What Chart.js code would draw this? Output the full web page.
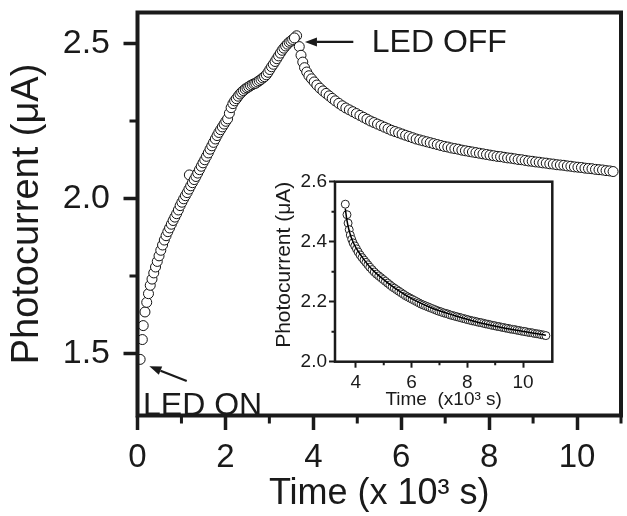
<!DOCTYPE html>
<html><head><meta charset="utf-8">
<script src="https://cdn.jsdelivr.net/npm/chart.js@4.4.1/dist/chart.umd.min.js"></script>
<style>
html,body{margin:0;padding:0;background:#fff;}
#wrap{position:relative;width:627px;height:516px;overflow:hidden;}
#main{position:absolute;left:0;top:0;}
#inset{position:absolute;left:270px;top:170px;}
</style></head><body>
<div id="wrap"><canvas id="main" width="627" height="516"></canvas><canvas id="inset" width="290" height="245"></canvas></div>
<script>
// ---- data (time in 10^3 s, photocurrent in µA) ----
const riseTime = [0.06,0.11,0.13,0.17,0.21,0.25,0.29,0.33,0.37,0.41,
  0.45,0.49,0.53,0.57,0.61,0.65,0.69,0.73,0.77,0.81,
  0.85,0.89,0.93,0.97,1.01,1.05,1.09,1.13,1.17,
  1.18,1.21,1.25,1.29,1.33,1.37,1.41,1.45,1.49,1.53,
  1.57,1.61,1.65,1.69,1.73,1.77,1.81,1.85,1.89,1.93,
  1.97,2.01,2.05,2.09,2.13,2.17,2.21,2.25,2.29,2.33,
  2.37,2.41,2.45,2.49,2.53,2.57,2.61,2.65,2.69,2.73,
  2.77,2.81,2.85,2.89,2.93,2.97,3.01,3.05,3.09,3.13,
  3.17,3.21,3.25,3.29,3.33,3.37,3.41,3.45,3.49,3.53,
  3.57];
const riseCurrent = [1.481,1.545,1.590,1.634,1.665,1.693,1.720,1.740,1.760,1.779,
  1.797,1.815,1.833,1.850,1.866,1.880,1.893,1.905,1.917,1.929,
  1.940,1.951,1.963,1.977,1.988,1.999,2.009,2.019,2.030,
  2.076,2.041,2.051,2.061,2.071,2.082,2.093,2.104,2.115,2.125,
  2.136,2.147,2.159,2.170,2.181,2.192,2.203,2.213,2.222,2.231,
  2.240,2.249,2.257,2.275,2.293,2.306,2.315,2.322,2.330,2.337,
  2.343,2.348,2.353,2.357,2.360,2.364,2.367,2.370,2.372,2.376,
  2.380,2.384,2.389,2.393,2.399,2.407,2.416,2.425,2.433,2.442,
  2.451,2.460,2.469,2.478,2.485,2.492,2.498,2.504,2.508,2.513,
  2.518];
const decayTime = [3.62,3.68,3.72,3.76,3.80,3.85,3.90,3.96,4.02,4.08,4.15,4.22,4.29,4.36,4.43,4.50,4.58,4.66,4.74,4.82,4.90,4.98,5.06,5.14,5.22,5.30,5.38,5.46,5.54,5.62,5.70,5.78,5.86,5.94,6.02,6.10,6.18,6.26,6.34,6.42,6.50,6.58,6.66,6.74,6.82,6.90,6.98,7.06,7.14,7.22,7.30,7.38,7.46,7.54,7.62,7.70,7.78,7.86,7.94,8.02,8.10,8.18,8.26,8.34,8.42,8.50,8.58,8.66,8.74,8.82,8.90,8.98,9.06,9.14,9.22,9.30,9.38,9.46,9.54,9.62,9.70,9.78,9.86,9.94,10.02,10.10,10.18,10.26,10.34,10.42,10.50,10.58,10.66,10.74,10.82];
const decayCurrent = [2.525,2.490,2.462,2.440,2.422,2.408,2.396,2.386,2.376,2.366,2.356,2.347,2.339,2.331,2.323,2.315,2.307,2.299,2.292,2.286,2.280,2.274,2.268,2.262,2.256,2.250,2.245,2.240,2.235,2.230,2.225,2.220,2.216,2.212,2.208,2.204,2.200,2.196,2.192,2.189,2.186,2.183,2.180,2.177,2.174,2.171,2.168,2.166,2.163,2.161,2.159,2.156,2.154,2.152,2.150,2.148,2.146,2.144,2.142,2.140,2.138,2.136,2.135,2.133,2.131,2.130,2.128,2.126,2.125,2.123,2.121,2.120,2.118,2.117,2.115,2.114,2.112,2.111,2.109,2.108,2.107,2.105,2.104,2.102,2.101,2.100,2.098,2.097,2.096,2.094,2.093,2.092,2.090,2.089,2.087];
const fitTime = [3.62,3.68,3.75,3.85,4.0,4.2,4.5,4.9,5.4,6.0,6.7,7.5,8.4,9.4,10.4,10.82];
const fitCurrent = [2.51,2.47,2.44,2.41,2.38,2.352,2.316,2.281,2.245,2.210,2.180,2.155,2.131,2.111,2.095,2.088];

const mainXTicks = [0,2,4,6,8,10];
const mainXMinor = [1,3,5,7,9,11];
const mainYTicks = [1.5,2.0,2.5];
const mainYMinor = [1.75,2.25];
const insetXTicks = [4,6,8,10];
const insetXMinor = [5,7,9];
const insetYTicks = [2.0,2.2,2.4,2.6];
const insetYMinor = [2.1,2.3,2.5];

const FONT = '"Liberation Sans", Arial, Helvetica, sans-serif';
const INK = '#1a1a1a';
function pts(xs, ys){ return xs.map((x,i)=>({x:x, y:ys[i]})); }

function drawArrow(ctx, x1, y1, x2, y2, w, hl, hw){
  const a = Math.atan2(y2-y1, x2-x1);
  const bx = x2 - hl*Math.cos(a), by = y2 - hl*Math.sin(a);
  ctx.lineWidth = w;
  ctx.beginPath(); ctx.moveTo(x1,y1); ctx.lineTo(bx,by); ctx.stroke();
  ctx.beginPath(); ctx.moveTo(x2,y2);
  ctx.lineTo(bx + hw*Math.sin(a), by - hw*Math.cos(a));
  ctx.lineTo(bx - hw*Math.sin(a), by + hw*Math.cos(a));
  ctx.closePath(); ctx.fill();
}

const framePlugin = {
  id: 'frame',
  afterDatasetsDraw(chart, args, o){
    const ctx = chart.ctx, a = chart.chartArea;
    const xs = chart.scales.x, ys = chart.scales.y;
    ctx.save();
    ctx.strokeStyle = INK; ctx.fillStyle = INK;
    ctx.lineWidth = o.width;
    ctx.strokeRect(a.left, a.top, a.right-a.left, a.bottom-a.top);
    ctx.lineWidth = o.minorWidth;
    ctx.beginPath();
    (o.xMinor||[]).forEach(v=>{ const p = xs.getPixelForValue(v); ctx.moveTo(p, a.bottom); ctx.lineTo(p, a.bottom + o.minorLen); });
    (o.yMinor||[]).forEach(v=>{ const p = ys.getPixelForValue(v); ctx.moveTo(a.left, p); ctx.lineTo(a.left - o.minorLen, p); });
    ctx.stroke();
    (o.arrows||[]).forEach(r=>{
      drawArrow(ctx, xs.getPixelForValue(r.from[0]), ys.getPixelForValue(r.from[1]),
                xs.getPixelForValue(r.to[0]), ys.getPixelForValue(r.to[1]), 2.2, 12, 4.5);
    });
    (o.labels||[]).forEach(l=>{
      ctx.font = l.size + 'px ' + FONT;
      ctx.textAlign = 'left'; ctx.textBaseline = 'alphabetic';
      ctx.fillText(l.text, xs.getPixelForValue(l.at[0]), ys.getPixelForValue(l.at[1]));
    });
    ctx.restore();
  }
};

function majorTicks(list){ return function(scale){ scale.ticks = list.map(v=>({value:v})); }; }
function fixBox(prop, size){
  return function(s){ s[prop] = size; s.paddingTop = 0; s.paddingBottom = 0; s.paddingLeft = 0; s.paddingRight = 0; };
}

// ---------------- main chart ----------------
const pointStyle = { pointRadius: 5, pointBorderWidth: 1, pointBackgroundColor: '#fff', pointBorderColor: '#111', showLine: false };
new Chart(document.getElementById('main'), {
  type: 'scatter',
  data: { datasets: [
    Object.assign({ label: 'LED on', data: pts(riseTime, riseCurrent) }, pointStyle),
    Object.assign({ label: 'LED off', data: pts(decayTime, decayCurrent) }, pointStyle)
  ]},
  plugins: [framePlugin],
  options: {
    responsive: false, animation: false, devicePixelRatio: 1, events: [],
    layout: { padding: { top: 12.5, right: 5.5, left: 0, bottom: 0 } },
    plugins: {
      legend: { display: false }, tooltip: { enabled: false },
      frame: {
        width: 4, minorWidth: 3, minorLen: 8,
        xMinor: mainXMinor, yMinor: mainYMinor,
        arrows: [ { from: [4.91, 2.505], to: [3.81, 2.505] }, { from: [1.12, 1.411], to: [0.27, 1.459] } ],
        labels: [ { text: 'LED OFF', at: [5.33, 2.473], size: 32 }, { text: 'LED ON', at: [0.125, 1.303], size: 32 } ]
      }
    },
    scales: {
      x: {
        type: 'linear', position: 'bottom', min: 0, max: 11,
        afterBuildTicks: majorTicks(mainXTicks),
        afterFit: fixBox('height', 100.5),
        border: { display: false },
        grid: { drawOnChartArea: false, drawTicks: true, tickLength: 14.5, tickWidth: 3.5, tickColor: INK },
        ticks: { color: INK, font: { family: FONT, size: 33 }, padding: 8, maxRotation: 0, autoSkip: false, callback: v => String(v) },
        title: { display: true, text: 'Time (x 10³ s)', color: INK, font: { family: FONT, size: 36 }, padding: { top: 0, bottom: 0 } }
      },
      y: {
        type: 'linear', min: 1.3, max: 2.6,
        afterBuildTicks: majorTicks(mainYTicks),
        afterFit: fixBox('width', 137.5),
        border: { display: false },
        grid: { drawOnChartArea: false, drawTicks: true, tickLength: 14, tickWidth: 3.5, tickColor: INK },
        ticks: { color: INK, font: { family: FONT, size: 34 }, padding: 13.5, autoSkip: false, callback: v => Number(v).toFixed(1) },
        title: { display: true, text: 'Photocurrent (μA)', color: INK, font: { family: FONT, size: 38 }, padding: { top: 4.5, bottom: 0 } }
      }
    }
  }
});

// ---------------- inset ----------------
new Chart(document.getElementById('inset'), {
  type: 'scatter',
  data: { datasets: [
    { type: 'line', label: 'fit', data: pts(fitTime, fitCurrent), borderColor: '#000', borderWidth: 1.5, pointRadius: 0, fill: false, cubicInterpolationMode: 'monotone', order: 0 },
    { label: 'decay', data: pts(decayTime, decayCurrent), pointRadius: 4, pointBorderWidth: 1, pointBackgroundColor: '#fff', pointBorderColor: '#222', showLine: false, order: 1 }
  ]},
  plugins: [framePlugin],
  options: {
    responsive: false, animation: false, devicePixelRatio: 1, events: [],
    layout: { padding: { top: 11.7, right: 7.7, left: 0, bottom: 0 } },
    plugins: {
      legend: { display: false }, tooltip: { enabled: false },
      frame: { width: 2.5, minorWidth: 2, minorLen: 3.5, xMinor: insetXMinor, yMinor: insetYMinor }
    },
    scales: {
      x: {
        type: 'linear', position: 'bottom', min: 3.25, max: 11.05,
        afterBuildTicks: majorTicks(insetXTicks),
        afterFit: fixBox('height', 53.3),
        border: { display: false },
        grid: { drawOnChartArea: false, drawTicks: true, tickLength: 6, tickWidth: 2, tickColor: INK },
        ticks: { color: INK, font: { family: FONT, size: 19 }, padding: 3.4, maxRotation: 0, autoSkip: false, callback: v => String(v) },
        title: { display: true, text: 'Time  (x10³ s)', color: INK, font: { family: FONT, size: 19 }, padding: { top: 0, bottom: 4.2 } }
      },
      y: {
        type: 'linear', min: 2.0, max: 2.6,
        afterBuildTicks: majorTicks(insetYTicks),
        afterFit: fixBox('width', 65),
        border: { display: false },
        grid: { drawOnChartArea: false, drawTicks: true, tickLength: 6, tickWidth: 2, tickColor: INK },
        ticks: { color: INK, font: { family: FONT, size: 19 }, padding: 2, autoSkip: false, callback: v => Number(v).toFixed(1) },
        title: { display: true, text: 'Photocurrent (μA)', color: INK, font: { family: FONT, size: 21 }, align: 'end', padding: { top: 2, bottom: 0 } }
      }
    }
  }
});
</script>
</body></html>
